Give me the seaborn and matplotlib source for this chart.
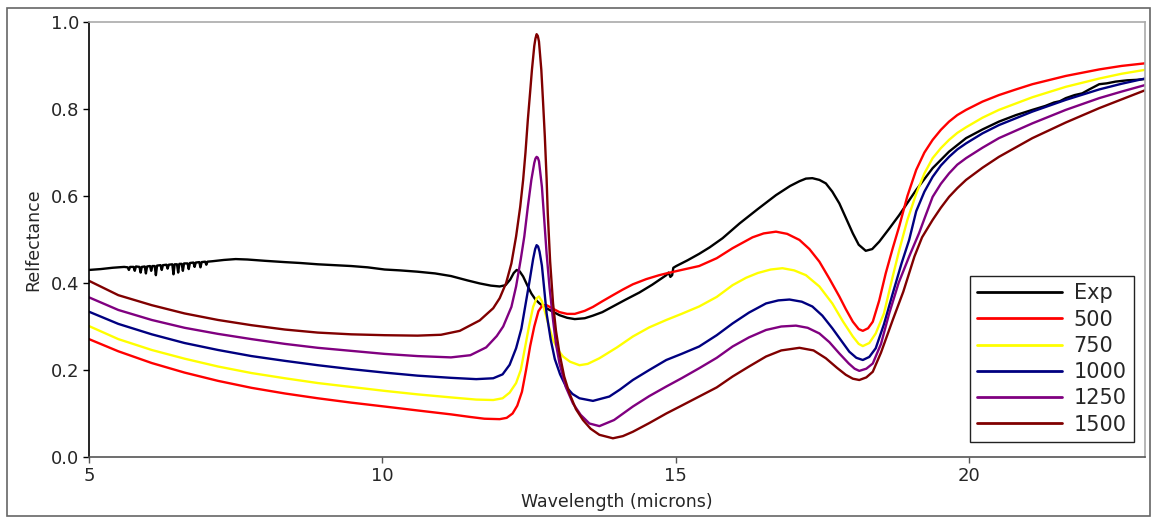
import numpy as np
import pandas as pd
import matplotlib
matplotlib.use("Agg")
import matplotlib.pyplot as plt
from matplotlib.patches import Rectangle
import seaborn as sns

# ---- measured spectrum ----
exp_wl = [5.00, 5.20, 5.40, 5.60, 5.66, 5.68, 5.70, 5.76, 5.78, 5.80, 5.86, 5.88, 5.90, 5.95,
          5.97, 5.99, 6.04, 6.06, 6.08, 6.12, 6.14, 6.16, 6.22, 6.24, 6.26, 6.32, 6.34, 6.36,
          6.42, 6.44, 6.46, 6.50, 6.52, 6.54, 6.58, 6.60, 6.62, 6.68, 6.70, 6.72, 6.78, 6.80,
          6.82, 6.88, 6.90, 6.92, 6.98, 7.00, 7.02, 7.10,
          7.30, 7.50, 7.70, 8.00, 8.34, 8.60, 8.90, 9.20, 9.47, 9.75, 10.04, 10.30,
          10.60, 10.90, 11.17, 11.45, 11.66, 11.85, 12.00, 12.10, 12.18, 12.24, 12.29, 12.34,
          12.40, 12.47, 12.54, 12.61, 12.68, 12.76, 12.85, 13.02, 13.15, 13.28, 13.45, 13.59,
          13.75, 13.93, 14.15, 14.38, 14.60, 14.84, 14.88, 14.91, 14.94, 14.96, 15.01, 15.20,
          15.40, 15.58, 15.80, 16.09, 16.40, 16.71, 16.95, 17.11, 17.22, 17.33, 17.45, 17.56,
          17.67, 17.79, 17.90, 18.02, 18.12, 18.24, 18.35, 18.47, 18.64, 18.81, 19.10, 19.38,
          19.66, 19.95, 20.23, 20.51, 20.80, 21.08, 21.30, 21.45, 21.55, 21.65, 21.80, 21.93,
          22.05, 22.22, 22.35, 22.50, 22.70, 22.85, 23.00]
exp_r = [0.430, 0.432, 0.435, 0.437, 0.436, 0.430, 0.437, 0.437, 0.428, 0.438, 0.437, 0.424, 0.437, 0.438,
         0.422, 0.438, 0.439, 0.428, 0.439, 0.439, 0.418, 0.440, 0.441, 0.430, 0.441, 0.442, 0.433, 0.442,
         0.443, 0.420, 0.443, 0.443, 0.424, 0.444, 0.444, 0.428, 0.445, 0.445, 0.432, 0.446, 0.447, 0.437,
         0.447, 0.448, 0.436, 0.448, 0.449, 0.442, 0.449, 0.450,
         0.453, 0.455, 0.454, 0.451, 0.448, 0.446, 0.443, 0.441, 0.439, 0.436, 0.431, 0.429,
         0.426, 0.422, 0.416, 0.406, 0.399, 0.394, 0.392, 0.395, 0.408, 0.423, 0.430, 0.427,
         0.415, 0.395, 0.376, 0.362, 0.353, 0.345, 0.338, 0.326, 0.320, 0.317, 0.319, 0.325,
         0.333, 0.346, 0.362, 0.378, 0.396, 0.418, 0.424, 0.414, 0.418, 0.435, 0.439, 0.452,
         0.467, 0.482, 0.503, 0.537, 0.570, 0.602, 0.623, 0.634, 0.640, 0.641, 0.637, 0.629,
         0.610, 0.583, 0.550, 0.514, 0.488, 0.474, 0.478, 0.495, 0.525, 0.556, 0.614, 0.664,
         0.702, 0.733, 0.753, 0.771, 0.786, 0.798, 0.807, 0.815, 0.818, 0.825, 0.832, 0.836,
         0.845, 0.857, 0.859, 0.863, 0.866, 0.867, 0.869]

# ---- model spectra ----
r500_wl = [5.00, 5.50, 6.07, 6.63, 7.20, 7.77, 8.34, 8.90, 9.47, 10.04, 10.60, 11.17, 11.50, 11.74,
           12.00, 12.12, 12.22, 12.30, 12.38, 12.45, 12.52, 12.59, 12.66, 12.73, 12.80, 12.88,
           13.02, 13.15, 13.28, 13.45, 13.59, 13.75, 13.93, 14.10, 14.27, 14.50, 14.72, 14.84,
           15.10, 15.40, 15.70, 15.97, 16.31, 16.50, 16.71, 16.90, 17.11, 17.28, 17.45, 17.62,
           17.79, 17.90, 18.02, 18.12, 18.19, 18.28, 18.36, 18.47, 18.58, 18.70, 18.81, 18.95,
           19.10, 19.24, 19.38, 19.52, 19.66, 19.80, 19.95, 20.23, 20.51, 20.80, 21.08, 21.65,
           22.22, 22.60, 23.00]
r500 = [0.271, 0.243, 0.216, 0.194, 0.175, 0.159, 0.146, 0.135, 0.125, 0.116, 0.107, 0.098, 0.092, 0.088,
        0.087, 0.090, 0.100, 0.118, 0.150, 0.200, 0.255, 0.300, 0.335, 0.349, 0.349, 0.343,
        0.333, 0.329, 0.329, 0.336, 0.345, 0.358, 0.372, 0.385, 0.397, 0.409, 0.418, 0.422,
        0.430, 0.439, 0.457, 0.480, 0.505, 0.514, 0.518, 0.513, 0.499, 0.478, 0.449, 0.410,
        0.369, 0.340, 0.311, 0.294, 0.290, 0.296, 0.311, 0.360, 0.422, 0.480, 0.530, 0.600,
        0.660, 0.700, 0.729, 0.752, 0.771, 0.786, 0.798, 0.817, 0.832, 0.845, 0.857, 0.876,
        0.891, 0.899, 0.905]

r750_wl = [5.00, 5.50, 6.07, 6.63, 7.20, 7.77, 8.34, 8.90, 9.47, 10.04, 10.60, 11.17, 11.60, 11.89,
           12.05, 12.17, 12.28, 12.36, 12.43, 12.50, 12.57, 12.63, 12.67, 12.72, 12.77, 12.84,
           12.91, 13.00, 13.08, 13.20, 13.36, 13.50, 13.70, 14.00, 14.27, 14.55, 14.84, 15.10,
           15.40, 15.70, 15.97, 16.20, 16.40, 16.62, 16.82, 17.02, 17.22, 17.45, 17.67, 17.85,
           18.02, 18.12, 18.19, 18.30, 18.41, 18.55, 18.70, 18.81, 18.95, 19.10, 19.24, 19.38,
           19.52, 19.66, 19.80, 19.95, 20.23, 20.51, 21.08, 21.65, 22.22, 22.60, 23.00]
r750 = [0.301, 0.271, 0.246, 0.226, 0.208, 0.193, 0.181, 0.170, 0.161, 0.152, 0.144, 0.137, 0.132, 0.131,
        0.135, 0.148, 0.170, 0.200, 0.250, 0.300, 0.345, 0.365, 0.369, 0.358, 0.335, 0.300,
        0.269, 0.245, 0.231, 0.219, 0.211, 0.214, 0.227, 0.252, 0.277, 0.298, 0.315, 0.329,
        0.346, 0.368, 0.395, 0.412, 0.423, 0.431, 0.434, 0.429, 0.418, 0.392, 0.353, 0.312,
        0.277, 0.260, 0.255, 0.262, 0.284, 0.330, 0.415, 0.475, 0.545, 0.605, 0.652, 0.687,
        0.710, 0.729, 0.745, 0.758, 0.780, 0.798, 0.827, 0.851, 0.870, 0.881, 0.890]

r1000_wl = [5.00, 5.50, 6.07, 6.63, 7.20, 7.77, 8.34, 8.90, 9.47, 10.04, 10.60, 11.17, 11.60, 11.89,
            12.05, 12.17, 12.28, 12.37, 12.44, 12.51, 12.57, 12.605, 12.63, 12.655, 12.68, 12.72,
            12.76, 12.80, 12.87, 12.94, 13.03, 13.13, 13.24, 13.36, 13.59, 13.87, 14.05, 14.27,
            14.55, 14.84, 15.10, 15.40, 15.70, 15.97, 16.25, 16.54, 16.75, 16.94, 17.15, 17.33,
            17.50, 17.67, 17.82, 17.96, 18.08, 18.19, 18.30, 18.41, 18.55, 18.70, 18.85, 18.98,
            19.10, 19.24, 19.38, 19.52, 19.66, 19.80, 19.95, 20.23, 20.51, 21.08, 21.65, 22.22,
            22.60, 23.00]
r1000 = [0.334, 0.306, 0.282, 0.262, 0.246, 0.232, 0.221, 0.211, 0.202, 0.194, 0.187, 0.182, 0.179, 0.181,
         0.190, 0.212, 0.250, 0.295, 0.350, 0.405, 0.455, 0.478, 0.487, 0.484, 0.472, 0.440,
         0.385, 0.330, 0.270, 0.225, 0.190, 0.162, 0.145, 0.135, 0.129, 0.139, 0.155, 0.177,
         0.200, 0.223, 0.237, 0.254, 0.280, 0.307, 0.332, 0.353, 0.360, 0.362, 0.357, 0.346,
         0.325, 0.296, 0.268, 0.242, 0.228, 0.223, 0.230, 0.250, 0.305, 0.376, 0.445, 0.499,
         0.565, 0.610, 0.644, 0.670, 0.690, 0.707, 0.721, 0.744, 0.763, 0.794, 0.821, 0.845,
         0.858, 0.870]

r1250_wl = [5.00, 5.50, 6.07, 6.63, 7.20, 7.77, 8.34, 8.90, 9.47, 10.04, 10.60, 11.17, 11.50, 11.77,
            11.95, 12.06, 12.20, 12.28, 12.36, 12.42, 12.48, 12.54, 12.59, 12.61, 12.63, 12.65,
            12.67, 12.72, 12.76, 12.80, 12.85, 12.91, 12.96, 13.02, 13.13, 13.25, 13.38, 13.53,
            13.70, 13.95, 14.27, 14.55, 14.84, 15.10, 15.40, 15.70, 15.97, 16.25, 16.54, 16.80,
            17.05, 17.25, 17.45, 17.62, 17.79, 17.95, 18.05, 18.13, 18.25, 18.36, 18.50, 18.64,
            18.80, 18.98, 19.15, 19.26, 19.38, 19.52, 19.66, 19.80, 19.95, 20.23, 20.51, 21.08,
            21.65, 22.22, 22.60, 23.00]
r1250 = [0.367, 0.338, 0.315, 0.297, 0.283, 0.271, 0.260, 0.251, 0.244, 0.237, 0.232, 0.229, 0.234, 0.252,
         0.278, 0.300, 0.345, 0.392, 0.455, 0.507, 0.575, 0.637, 0.676, 0.686, 0.690, 0.688,
         0.680, 0.621, 0.545, 0.468, 0.390, 0.315, 0.260, 0.215, 0.160, 0.123, 0.097, 0.077,
         0.071, 0.085, 0.116, 0.140, 0.162, 0.181, 0.204, 0.228, 0.254, 0.275, 0.292, 0.300,
         0.302, 0.297, 0.284, 0.264, 0.238, 0.215, 0.203, 0.198, 0.203, 0.215, 0.260, 0.330,
         0.400, 0.461, 0.515, 0.555, 0.598, 0.628, 0.652, 0.672, 0.687, 0.711, 0.733, 0.767,
         0.798, 0.825, 0.840, 0.855]

r1500_wl = [5.00, 5.50, 6.07, 6.63, 7.20, 7.77, 8.34, 8.90, 9.47, 10.04, 10.60, 11.00, 11.32, 11.66,
            11.89, 12.00, 12.11, 12.20, 12.28, 12.35, 12.40, 12.44, 12.48, 12.52, 12.55, 12.59,
            12.61, 12.63, 12.65, 12.67, 12.71, 12.74, 12.77, 12.80, 12.82, 12.86, 12.91, 12.96,
            13.02, 13.10, 13.19, 13.30, 13.42, 13.55, 13.70, 13.93, 14.10, 14.27, 14.55, 14.84,
            15.10, 15.40, 15.70, 15.97, 16.25, 16.54, 16.80, 17.11, 17.35, 17.56, 17.75, 17.90,
            18.02, 18.13, 18.25, 18.36, 18.50, 18.70, 18.88, 19.07, 19.20, 19.38, 19.52, 19.66,
            19.80, 19.95, 20.23, 20.51, 21.08, 21.65, 22.22, 22.60, 23.00]
r1500 = [0.405, 0.372, 0.349, 0.330, 0.315, 0.303, 0.293, 0.286, 0.282, 0.280, 0.279, 0.281, 0.290, 0.314,
         0.342, 0.365, 0.400, 0.445, 0.507, 0.575, 0.637, 0.700, 0.775, 0.840, 0.890, 0.945,
         0.962, 0.972, 0.968, 0.955, 0.890, 0.815, 0.736, 0.640, 0.560, 0.450, 0.353, 0.290,
         0.238, 0.185, 0.146, 0.110, 0.085, 0.065, 0.051, 0.043, 0.048, 0.058, 0.078, 0.100,
         0.118, 0.139, 0.160, 0.185, 0.208, 0.231, 0.245, 0.251, 0.245, 0.227, 0.205, 0.189,
         0.180, 0.177, 0.183, 0.196, 0.240, 0.315, 0.380, 0.461, 0.505, 0.545, 0.573, 0.598,
         0.618, 0.637, 0.665, 0.690, 0.733, 0.769, 0.802, 0.822, 0.843]

series_names = ["Exp", "500", "750", "1000", "1250", "1500"]
series_colors = ["#000000", "#ff0000", "#ffff00", "#000080", "#800080", "#800000"]
x_ticks = [5, 10, 15, 20]
y_ticks = [0.0, 0.2, 0.4, 0.6, 0.8, 1.0]

all_wl = [exp_wl, r500_wl, r750_wl, r1000_wl, r1250_wl, r1500_wl]
all_r = [exp_r, r500, r750, r1000, r1250, r1500]

frames = []
for name, wl, r in zip(series_names, all_wl, all_r):
    frames.append(pd.DataFrame({"wl": wl, "R": r, "series": name}))
df = pd.concat(frames, ignore_index=True)

sns.set_style("ticks")
plt.rcParams["font.family"] = ["DejaVu Sans"]

fig = plt.figure(figsize=(11.52, 5.18), dpi=100)
ax = fig.add_axes([89 / 1152, 1 - 457 / 518, (1145 - 89) / 1152, (457 - 22) / 518])

sns.lineplot(data=df, x="wl", y="R", hue="series", hue_order=series_names,
             palette=dict(zip(series_names, series_colors)), estimator=None,
             sort=False, linewidth=1.7, ax=ax)

ax.set_xlim(5, 23)
ax.set_ylim(0, 1)
ax.set_xticks(x_ticks)
ax.set_yticks(y_ticks)
ax.set_xticklabels([str(t) for t in x_ticks])
ax.set_yticklabels([f"{t:.1f}" for t in y_ticks])
ax.set_xlabel("Wavelength (microns)", fontsize=12.5, labelpad=6)
ax.set_ylabel("Relfectance", fontsize=12.5, labelpad=6)
ax.tick_params(axis="both", labelsize=13, length=4, width=1, direction="out", pad=3)
ax.tick_params(axis="x", color="#555555")
ax.tick_params(axis="y", color="#000000")

for side, col in [("left", "#000000"), ("bottom", "#555555"),
                  ("top", "#aaaaaa"), ("right", "#aaaaaa")]:
    ax.spines[side].set_visible(True)
    ax.spines[side].set_color(col)
    ax.spines[side].set_linewidth(1.2)

handles, labels = ax.get_legend_handles_labels()
leg = ax.legend(handles, labels, loc="lower right",
                bbox_to_anchor=(1 - 11 / 1056, 15 / 435), borderaxespad=0,
                fontsize=15, frameon=True, fancybox=False, framealpha=1,
                edgecolor="#222222", handlelength=4.1, handletextpad=0.55,
                labelspacing=0.3, borderpad=0.35)
leg.get_frame().set_linewidth(1.0)
for line in leg.get_lines():
    line.set_linewidth(2.0)

# outer frame around the whole figure
fig.patches.append(Rectangle((7 / 1152, 2 / 518), (1150 - 7) / 1152, (513 - 5) / 518,
                             transform=fig.transFigure, fill=False,
                             edgecolor="#666666", linewidth=1.2))

fig.savefig("out.png", dpi=100)
